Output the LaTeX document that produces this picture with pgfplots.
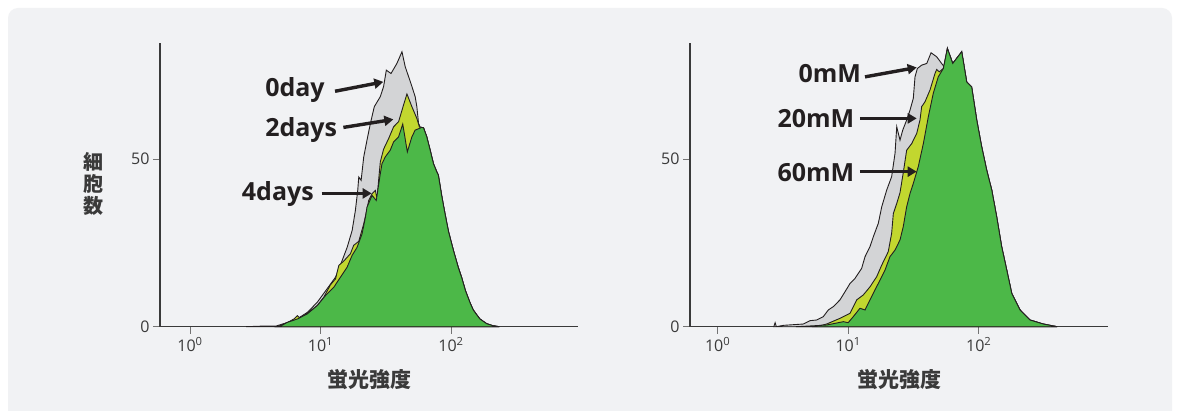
\documentclass[border=0pt]{standalone}
\usepackage{fontspec}
\usepackage{pgfplots}
\pgfplotsset{compat=1.18}
\usetikzlibrary{arrows.meta}
\setmainfont{Open Sans}
\newfontfamily\jp{Noto Sans CJK JP}

\definecolor{bgpanel}{HTML}{F1F2F4}
\definecolor{cgray}{HTML}{D3D4D6}
\definecolor{cyellow}{HTML}{C2D72F}
\definecolor{cgreen}{HTML}{4CB848}
\definecolor{ink}{HTML}{231F20}
\definecolor{axisc}{HTML}{3A3A3A}

\pgfplotsset{
  histpanel/.style={
    scale only axis, width=418.3pt, height=284pt,
    ymin=0, ymax=84.8,
    axis x line*=bottom, axis y line*=left,
    axis line style={-, axisc, line width=1.2pt},
    xtick={0,1,2},
    xticklabels={10\textsuperscript{0},10\textsuperscript{1},10\textsuperscript{2}},
    ytick={0,50}, yticklabels={0,50},
    tick align=outside, major tick length=7pt,
    tick style={color=black!55, line width=0.8pt},
    ticklabel style={font=\fontsize{16}{16}\selectfont, text=axisc},
    xlabel={\jp\bfseries\fontsize{21}{21}\selectfont 蛍光強度},
    xlabel style={at={(axis description cs:0.5,0)}, anchor=center, yshift=-53.3pt, text=axisc},
    clip=false,
  },
  hist/.style={draw=ink, line width=0.9pt, fill=#1},
}
\tikzset{
  tag/.style={font=\bfseries\fontsize{25}{25}\selectfont, text=ink, anchor=base west, inner sep=0pt},
  pointer/.style={ink, line width=3.4pt, -{Triangle[length=9pt,width=10pt]}},
}

\begin{document}
\begin{tikzpicture}
\useasboundingbox (0pt,0pt) rectangle (1179pt,410pt);
\fill[white] (0pt,0pt) rectangle (1179pt,410pt);
\begin{scope}
  \clip (0pt,0pt) rectangle (1179pt,410pt);
  \fill[bgpanel, rounded corners=10pt] (8pt,-30pt) rectangle (1172pt,402pt);
\end{scope}

% ---- culture time ----
\begin{axis}[histpanel, at={(160pt,83.3pt)}, anchor=south west,
  xmin=-0.23, xmax=2.975,
  ylabel={\jp\bfseries\fontsize{20}{20.7}\selectfont\shortstack{細\\胞\\数}},
  ylabel style={at={(axis cs:-0.743,42.6)}, rotate=-90, anchor=center, text=axisc}]
% 0day
\addplot[hist=cgray] coordinates {
(0.43,0) (0.57,0.2) (0.66,0.2) (0.75,1.3) (0.82,2.3) (0.90,4.3) (0.975,7.3)
(1.05,11.3) (1.115,14.8) (1.166,19.8) (1.204,23.7) (1.242,28.7) (1.267,34.7)
(1.285,40.7) (1.293,44.7) (1.311,43.7) (1.331,50.7) (1.356,55.7) (1.382,60.7)
(1.412,65.7) (1.458,68.7) (1.483,71.7) (1.504,76.6) (1.540,75.6) (1.585,78.6)
(1.624,82.1) (1.649,77.6) (1.692,72.7) (1.725,68.7) (1.738,65.7) (1.751,60.7)
(1.765,59.5) (1.775,59.5)
(1.789,59.4) (1.814,56.7) (1.840,52.7) (1.865,48.7) (1.891,46.2) (1.903,45.2)
(1.929,39.0) (1.950,34.5) (1.980,28.5) (2.018,22.8) (2.056,17.6) (2.082,14.6)
(2.110,10.8) (2.145,7.2) (2.170,5.0) (2.196,3.6) (2.221,2.3) (2.273,0.9)
(2.32,0.3) (2.37,0)} \closedcycle;
% 2days
\addplot[hist=cyellow] coordinates {
(0.67,0) (0.75,1.3) (0.80,2.4) (0.822,3.3) (0.84,2.6) (0.873,3.3) (0.924,4.8)
(0.975,6.3) (1.025,8.8) (1.076,12.5) (1.115,14.3) (1.140,18.3) (1.178,19.6)
(1.229,21.8) (1.254,24.3) (1.293,25.5) (1.331,30.7) (1.351,34.2) (1.369,37.7)
(1.395,39.7) (1.420,40.7) (1.433,38.2) (1.445,43.7) (1.458,49.2) (1.483,53.0)
(1.522,56.2) (1.560,59.7) (1.598,61.2) (1.636,66.2) (1.662,69.5) (1.700,65.7)
(1.738,62.2) (1.758,59.6) (1.775,59.5)
(1.789,59.4) (1.814,56.7) (1.840,52.7) (1.865,48.7) (1.891,46.2) (1.903,45.2)
(1.929,39.0) (1.950,34.5) (1.980,28.5) (2.018,22.8) (2.056,17.6) (2.082,14.6)
(2.110,10.8) (2.145,7.2) (2.170,5.0) (2.196,3.6) (2.221,2.3) (2.273,0.9)
(2.32,0.3) (2.37,0)} \closedcycle;
% 4days
\addplot[hist=cgreen] coordinates {
(0.67,0) (0.70,0.3) (0.746,1.3) (0.822,2.3) (0.898,3.8) (0.975,6.3) (1.038,9.3)
(1.102,11.8) (1.153,14.8) (1.204,17.8) (1.242,21.3) (1.280,23.7) (1.318,27.7)
(1.344,32.7) (1.356,35.7) (1.395,39.2) (1.427,37.7) (1.458,45.7) (1.471,48.7)
(1.496,50.7) (1.534,52.7) (1.560,55.2) (1.598,56.7) (1.630,60.5) (1.665,52.2)
(1.700,56.7) (1.725,58.7) (1.775,59.5)
(1.789,59.4) (1.814,56.7) (1.840,52.7) (1.865,48.7) (1.891,46.2) (1.903,45.2)
(1.929,39.0) (1.950,34.5) (1.980,28.5) (2.018,22.8) (2.056,17.6) (2.082,14.6)
(2.110,10.8) (2.145,7.2) (2.170,5.0) (2.196,3.6) (2.221,2.3) (2.273,0.9)
(2.32,0.3) (2.37,0)} \closedcycle;
\node[tag] at (axis cs:0.575,68.7) {0day};
\node[tag] at (axis cs:0.575,56.7) {2days};
\node[tag] at (axis cs:0.396,37.6) {4days};
\draw[pointer] (axis cs:1.111,70.3) -- (axis cs:1.481,73.1);
\draw[pointer] (axis cs:1.175,59.5) -- (axis cs:1.558,61.9);
\draw[pointer] (axis cs:1.009,39.8) -- (axis cs:1.392,39.8);
\end{axis}

% ---- concentration ----
\begin{axis}[histpanel, at={(690pt,83.3pt)}, anchor=south west,
  xmin=-0.212, xmax=2.993]
% 0mM
\addplot[hist=cgray] coordinates {
(0.43,0) (0.44,1.2) (0.45,0) (0.503,0.4) (0.656,0.8) (0.707,1.8) (0.759,2.0)
(0.809,3.0) (0.848,5.0) (0.886,6.0) (0.937,8.0) (0.975,10.4) (1.014,12.9)
(1.052,14.4) (1.103,17.4) (1.129,20.9) (1.167,23.9) (1.193,26.9) (1.231,30.9)
(1.257,35.8) (1.295,40.8) (1.333,44.8) (1.359,51.8) (1.372,59.7) (1.397,55.7)
(1.418,58.7) (1.448,61.7) (1.474,64.7) (1.499,68.2) (1.512,74.6) (1.530,77.1)
(1.563,78.1) (1.602,78.6) (1.635,81.8) (1.678,80.6) (1.716,78.6) (1.742,77.3)
(1.760,83.1) (1.801,78.6) (1.870,82.1) (1.908,73.1) (1.946,71.6) (1.985,61.7)
(2.023,53.7) (2.061,46.8) (2.100,40.8) (2.138,32.8) (2.176,23.9) (2.215,16.9)
(2.253,10.0) (2.317,5.0) (2.393,2.0) (2.495,0.8) (2.60,0)} \closedcycle;
% 20mM
\addplot[hist=cyellow] coordinates {
(0.75,0) (0.835,0.8) (0.937,2.5) (1.014,4.0) (1.065,8.0) (1.116,9.5) (1.167,11.9)
(1.218,14.9) (1.257,18.4) (1.307,22.4) (1.333,27.9) (1.346,33.8) (1.372,36.8)
(1.397,40.0) (1.422,46.0) (1.448,52.7) (1.487,54.7) (1.525,57.7) (1.550,61.7)
(1.563,65.7) (1.589,67.2) (1.627,70.7) (1.665,75.6) (1.678,76.8) (1.698,76.1)
(1.729,77.1)
(1.760,83.1) (1.801,78.6) (1.870,82.1) (1.908,73.1) (1.946,71.6) (1.985,61.7)
(2.023,53.7) (2.061,46.8) (2.100,40.8) (2.138,32.8) (2.176,23.9) (2.215,16.9)
(2.253,10.0) (2.317,5.0) (2.393,2.0) (2.495,0.8) (2.60,0)} \closedcycle;
% 60mM
\addplot[hist=cgreen] coordinates {
(0.60,0) (0.70,0.2) (0.835,0.5) (0.963,1.5) (1.000,1.2) (1.039,3.0) (1.090,5.5)
(1.129,5.0) (1.167,8.0) (1.205,11.0) (1.244,13.9) (1.282,16.9) (1.320,20.9)
(1.359,22.9) (1.397,25.9) (1.422,29.9) (1.448,35.8) (1.474,39.8) (1.499,42.8)
(1.537,47.8) (1.576,54.7) (1.614,62.7) (1.652,69.7) (1.690,74.6) (1.729,77.1)
(1.760,83.1) (1.801,78.6) (1.870,82.1) (1.908,73.1) (1.946,71.6) (1.985,61.7)
(2.023,53.7) (2.061,46.8) (2.100,40.8) (2.138,32.8) (2.176,23.9) (2.215,16.9)
(2.253,10.0) (2.317,5.0) (2.393,2.0) (2.495,0.8) (2.60,0)} \closedcycle;
\node[tag] at (axis cs:0.618,72.8) {0mM};
\node[tag] at (axis cs:0.457,59.5) {20mM};
\node[tag] at (axis cs:0.457,43.3) {60mM};
\draw[pointer] (axis cs:1.129,74.6) -- (axis cs:1.525,77.4);
\draw[pointer] (axis cs:1.090,62.2) -- (axis cs:1.525,62.2);
\draw[pointer] (axis cs:1.090,46.3) -- (axis cs:1.525,46.3);
\end{axis}
\end{tikzpicture}
\end{document}
